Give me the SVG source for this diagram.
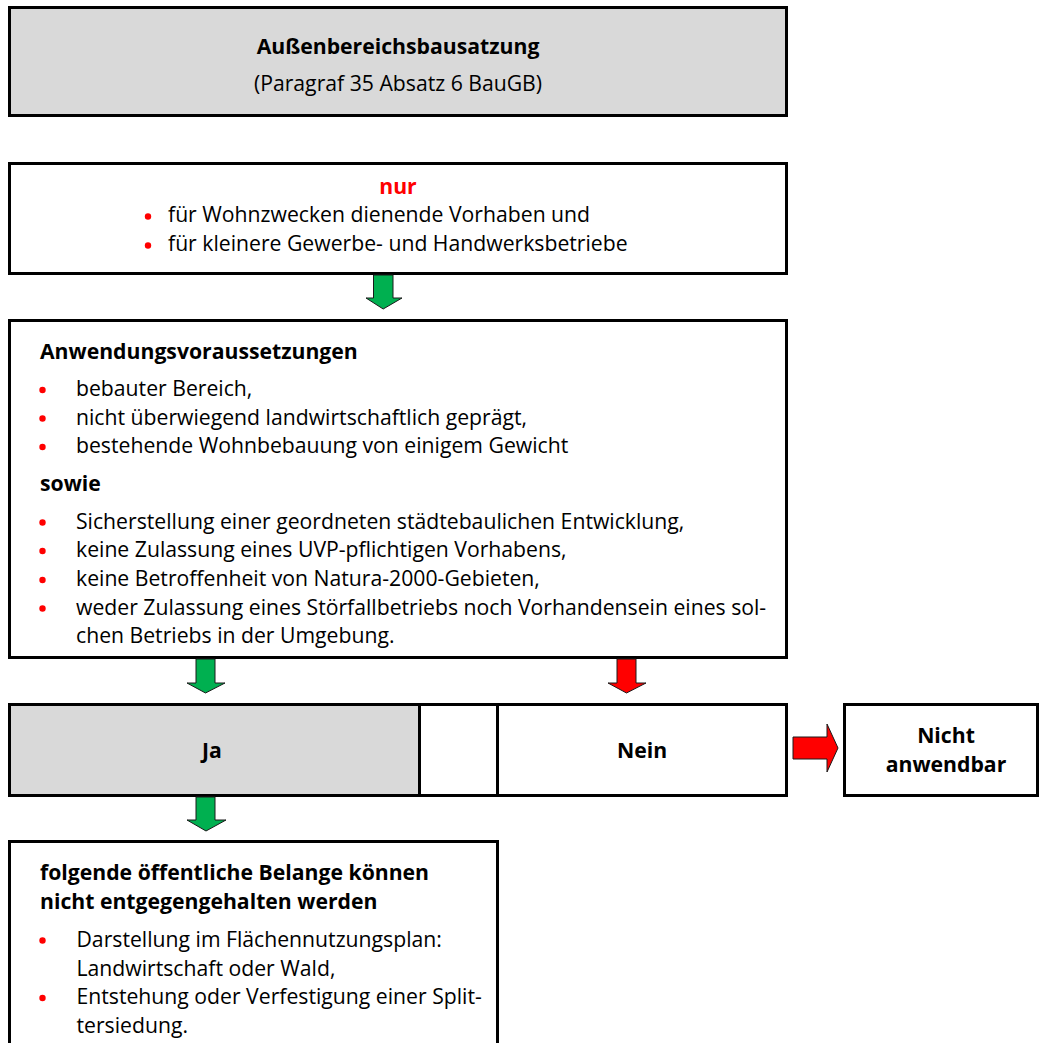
<svg xmlns="http://www.w3.org/2000/svg" width="1040" height="1043" viewBox="0 0 1040 1043">
<style>
.box{stroke:#000;stroke-width:3;fill:#fff}
.grey{fill:#d9d9d9}
.t{font-family:"Open Sans","Noto Sans","Liberation Sans",sans-serif;font-size:21.2px;fill:#000}
.b{font-weight:bold}
.c{text-anchor:middle}
.red{fill:#ff0000}
.dot{fill:#ff0000}
.ga{fill:#00b050;stroke:#1a1a1a;stroke-width:1}
.ra{fill:#ff0000;stroke:#1a1a1a;stroke-width:1}
</style>
<rect width="1040" height="1043" fill="#fff"/>
<g id="node-title">
<rect class="box grey" x="9.5" y="7.5" width="777" height="108"/>
<text class="t b c" x="398" y="54">Außenbereichsbausatzung</text>
<text class="t c" x="398" y="91">(Paragraf 35 Absatz 6 BauGB)</text>
</g>
<g id="node-nur">
<rect class="box" x="9.5" y="163.5" width="777" height="110"/>
<text class="t b c red" x="398" y="194">nur</text>
<circle class="dot" cx="148" cy="216.5" r="3.2"/>
<text class="t" x="168" y="222">für Wohnzwecken dienende Vorhaben und</text>
<circle class="dot" cx="148" cy="245.5" r="3.2"/>
<text class="t" x="168" y="251">für kleinere Gewerbe- und Handwerksbetriebe</text>
</g>
<g id="node-voraussetzungen">
<rect class="box" x="9.5" y="320.5" width="777" height="337"/>
<text class="t b" x="40" y="359">Anwendungsvoraussetzungen</text>
<circle class="dot" cx="42.5" cy="390" r="3.2"/>
<text class="t" x="76" y="396">bebauter Bereich,</text>
<circle class="dot" cx="42.5" cy="418.5" r="3.2"/>
<text class="t" x="76" y="424.5">nicht überwiegend landwirtschaftlich geprägt,</text>
<circle class="dot" cx="42.5" cy="447" r="3.2"/>
<text class="t" x="76" y="453">bestehende Wohnbebauung von einigem Gewicht</text>
<text class="t b" x="40" y="490.5">sowie</text>
<circle class="dot" cx="42.5" cy="522.5" r="3.2"/>
<text class="t" x="76" y="528.5">Sicherstellung einer geordneten städtebaulichen Entwicklung,</text>
<circle class="dot" cx="42.5" cy="551" r="3.2"/>
<text class="t" x="76" y="557">keine Zulassung eines UVP-pflichtigen Vorhabens,</text>
<circle class="dot" cx="42.5" cy="580" r="3.2"/>
<text class="t" x="76" y="586">keine Betroffenheit von Natura-2000-Gebieten,</text>
<circle class="dot" cx="42.5" cy="608.5" r="3.2"/>
<text class="t" x="76" y="614.5">weder Zulassung eines Störfallbetriebs noch Vorhandensein eines sol-</text>
<text class="t" x="76" y="643">chen Betriebs in der Umgebung.</text>
</g>
<g id="node-ja">
<rect class="box grey" x="9.5" y="704.5" width="410" height="91"/>
<text class="t b c" x="212" y="758">Ja</text>
</g>
<g id="node-spacer">
<rect class="box" x="419.5" y="704.5" width="78" height="91"/>
</g>
<g id="node-nein">
<rect class="box" x="497.5" y="704.5" width="289" height="91"/>
<text class="t b c" x="642" y="758">Nein</text>
</g>
<g id="node-nicht">
<rect class="box" x="844.5" y="704.5" width="193" height="91"/>
<text class="t b c" x="946" y="743">Nicht</text>
<text class="t b c" x="946" y="771.5">anwendbar</text>
</g>
<g id="node-belange">
<rect class="box" x="9.5" y="841.5" width="488" height="210"/>
<text class="t b" x="40" y="880">folgende öffentliche Belange können</text>
<text class="t b" x="40" y="909">nicht entgegengehalten werden</text>
<circle class="dot" cx="42.5" cy="940.5" r="3.2"/>
<text class="t" x="76.5" y="946.5">Darstellung im Flächennutzungsplan:</text>
<text class="t" x="76.5" y="975.5">Landwirtschaft oder Wald,</text>
<circle class="dot" cx="42.5" cy="998" r="3.2"/>
<text class="t" x="76.5" y="1004">Entstehung oder Verfestigung einer Split-</text>
<text class="t" x="76.5" y="1032.5">tersiedung.</text>
</g>
<g id="connectors">
<polygon class="ga" points="373.5,275 393,275 393,298 402,298 383.2,309 366,298 373.5,298"/>
<polygon class="ga" points="196,659 215,659 215,683 225,683 205.5,693 187,683 196,683"/>
<polygon class="ra" points="617,659 636,659 636,683 646,683 626.5,693 608,683 617,683"/>
<polygon class="ga" points="196,797 215,797 215,820 226,820 206,831 187,820 196,820"/>
<polygon class="ra" points="793,737 827,737 827,724 838,748 827,772 827,759 793,759"/>
</g>
</svg>
